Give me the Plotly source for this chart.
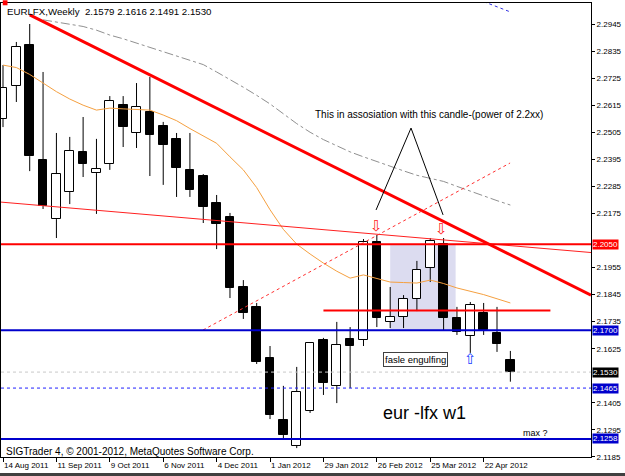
import plotly.graph_objects as go

# ---------------- data ----------------
tick_idx = [0, 4, 8, 12, 16, 20, 24, 28, 32, 36]
tick_labels = ["14 Aug 2011", "11 Sep 2011", "9 Oct 2011", "6 Nov 2011", "4 Dec 2011",
               "1 Jan 2012", "29 Jan 2012", "26 Feb 2012", "25 Mar 2012", "22 Apr 2012"]

opens = [2.2559, 2.2693, 2.2860, 2.2392, 2.2152, 2.2262, 2.2425, 2.2339, 2.2376, 2.2616,
         2.2502, 2.2587, 2.2530, 2.2478, 2.2352, 2.2327, 2.2217, 2.2160, 2.1876, 2.1795,
         2.1587, 2.1335, 2.1230, 2.1372, 2.1661, 2.1474, 2.1665, 2.1661, 2.2059, 2.1734,
         2.1754, 2.1827, 2.1953, 2.2051, 2.1750, 2.1677, 2.1770, 2.1689, 2.1579]
highs = [2.2778, 2.2872, 2.2945, 2.2750, 2.2502, 2.2486, 2.2567, 2.2478, 2.2652, 2.2652,
         2.2705, 2.2730, 2.2547, 2.2502, 2.2502, 2.2335, 2.2250, 2.2177, 2.1904, 2.1811,
         2.1636, 2.1474, 2.1551, 2.1652, 2.1669, 2.1734, 2.1713, 2.2071, 2.2087, 2.1876,
         2.1843, 2.1982, 2.2075, 2.2075, 2.1795, 2.1815, 2.1811, 2.1795, 2.1616]
lows = [2.2526, 2.2628, 2.2347, 2.2193, 2.2075, 2.2213, 2.2323, 2.2173, 2.2352, 2.2445,
        2.2441, 2.2327, 2.2291, 2.2242, 2.2242, 2.2136, 2.2030, 2.1831, 2.1746, 2.1563,
        2.1339, 2.1254, 2.1221, 2.1364, 2.1437, 2.1404, 2.1465, 2.1636, 2.1713, 2.1709,
        2.1709, 2.1778, 2.1896, 2.1701, 2.1681, 2.1608, 2.1681, 2.1612, 2.1491]
closes = [2.2685, 2.2852, 2.2408, 2.2205, 2.2335, 2.2429, 2.2376, 2.2356, 2.2632, 2.2526,
          2.2608, 2.2494, 2.2453, 2.2360, 2.2270, 2.2201, 2.2132, 2.1872, 2.1770, 2.1571,
          2.1356, 2.1274, 2.1449, 2.1648, 2.1486, 2.1640, 2.1636, 2.2059, 2.1750, 2.1754,
          2.1827, 2.1945, 2.2063, 2.1750, 2.1693, 2.1803, 2.1701, 2.1644, 2.1530]

ma_fast = [2.2778, 2.2768, 2.2740, 2.2705, 2.2670, 2.2640, 2.2615, 2.2595, 2.2603, 2.2600,
           2.2597, 2.2595, 2.2575, 2.2552, 2.2520, 2.2490, 2.2460, 2.2405, 2.2352, 2.2280,
           2.2190, 2.2110, 2.2050, 2.2010, 2.1973, 2.1940, 2.1912, 2.1925, 2.1910, 2.1896,
           2.1894, 2.1892, 2.1904, 2.1890, 2.1872, 2.1860, 2.1845, 2.1828, 2.1811]
ma_slow_idx = list(range(3, 39))
ma_slow = [2.2962, 2.2953, 2.2945, 2.2935, 2.2920, 2.2900, 2.2885, 2.2868, 2.2850, 2.2833,
           2.2816, 2.2798, 2.2780, 2.2750, 2.2720, 2.2688, 2.2655, 2.2620, 2.2580, 2.2540,
           2.2505, 2.2475, 2.2450, 2.2425, 2.2405, 2.2385, 2.2365, 2.2348, 2.2330, 2.2318,
           2.2305, 2.2285, 2.2265, 2.2245, 2.2227, 2.2209]
ma_top_idx = [36, 37, 38]
ma_top = [2.3036, 2.3015, 2.2994]

trend_thick = ([2.0, 44.04], [2.2982, 2.1843])
trend_thin = ([-0.15, 44.04], [2.2221, 2.2016])
trend_dotted = ([14.98, 37.98], [2.1701, 2.2380])
marker_lines = ([27.94, 30.56, 32.96], [2.2189, 2.2522, 2.2169])

level_red = 2.2050
level_red_short = (24.0, 41.0, 2.1780)
level_blue = 2.1700
level_blue_dot = 2.1465
level_blue_low = 2.1258
last_price = 2.1530
zone = (29.0, 33.9, 2.2050, 2.1700)

# ticks hidden behind the price boxes (2.2065, 2.1515) are left out
ytick_vals = [2.2945, 2.2835, 2.2725, 2.2615, 2.2505, 2.2395, 2.2285, 2.2175,
              2.1955, 2.1845, 2.1735, 2.1625, 2.1405, 2.1295, 2.1185]

# ---------------- figure ----------------
FONT = "Liberation Sans"
fig = go.Figure()

n = len(opens)
idx = list(range(n))
up = [i for i in idx if closes[i] >= opens[i]]
dn = [i for i in idx if closes[i] < opens[i]]

# wicks (split so they don't cross hollow bodies)
wx, wy = [], []
for i in idx:
    top = max(opens[i], closes[i]); bot = min(opens[i], closes[i])
    wx += [i, i, None, i, i, None]
    wy += [highs[i], top, None, bot, lows[i], None]
fig.add_trace(go.Scatter(x=wx, y=wy, mode="lines", line=dict(color="#000", width=1),
                         hoverinfo="skip", showlegend=False))

for group, fill in ((up, "#ffffff"), (dn, "#000000")):
    fig.add_trace(go.Bar(
        x=group,
        y=[abs(closes[i] - opens[i]) for i in group],
        base=[min(opens[i], closes[i]) for i in group],
        width=0.65, marker=dict(color=fill, line=dict(color="#000", width=1)),
        hoverinfo="skip", showlegend=False))

# moving averages
fig.add_trace(go.Scatter(x=idx, y=ma_fast, mode="lines",
                         line=dict(color="#f5a040", width=1), showlegend=False, hoverinfo="skip"))
fig.add_trace(go.Scatter(x=ma_slow_idx, y=ma_slow, mode="lines",
                         line=dict(color="#909090", width=1, dash="dashdot"), showlegend=False, hoverinfo="skip"))
fig.add_trace(go.Scatter(x=ma_top_idx, y=ma_top, mode="lines",
                         line=dict(color="#3030e0", width=1, dash="dot"), showlegend=False, hoverinfo="skip"))

# trend lines
fig.add_trace(go.Scatter(x=trend_thick[0], y=trend_thick[1], mode="lines",
                         line=dict(color="#ff0000", width=3), showlegend=False, hoverinfo="skip"))
fig.add_trace(go.Scatter(x=trend_thin[0], y=trend_thin[1], mode="lines",
                         line=dict(color="#ff2020", width=1), showlegend=False, hoverinfo="skip"))
fig.add_trace(go.Scatter(x=trend_dotted[0], y=trend_dotted[1], mode="lines",
                         line=dict(color="#ff3030", width=1, dash="dot"), showlegend=False, hoverinfo="skip"))
fig.add_trace(go.Scatter(x=marker_lines[0], y=marker_lines[1], mode="lines",
                         line=dict(color="#000", width=1), showlegend=False, hoverinfo="skip"))

shapes = []
shapes.append(dict(type="rect", xref="x", yref="y", x0=zone[0], x1=zone[1], y0=zone[2], y1=zone[3],
                   fillcolor="#dcdcf0", line=dict(width=0), layer="below"))
def hline(y, color, width, dash="solid"):
    shapes.append(dict(type="line", xref="paper", x0=0, x1=1, yref="y", y0=y, y1=y,
                       line=dict(color=color, width=width, dash=dash)))
hline(last_price, "#c8c8c8", 1, "dot")
hline(level_red, "#ff0000", 2)
hline(level_blue, "#0000cc", 2)
hline(level_blue_dot, "#2020ff", 1, "dot")
hline(level_blue_low, "#0000cc", 2)
shapes.append(dict(type="line", xref="x", yref="y", x0=level_red_short[0], x1=level_red_short[1],
                   y0=level_red_short[2], y1=level_red_short[2], line=dict(color="#ff0000", width=2)))
# small red mark top-left and dark bottom strip
shapes.append(dict(type="rect", xref="paper", yref="paper", x0=0.003, x1=0.011, y0=0.995, y1=1.006,
                   fillcolor="#ff0000", line=dict(width=0)))
shapes.append(dict(type="rect", xref="paper", yref="paper", x0=-0.01, x1=1.06, y0=-0.0352, y1=-0.045,
                   fillcolor="#404040", line=dict(width=0)))

ann = []
def price_box(y, text, bg):
    ann.append(dict(xref="paper", x=1, xanchor="left", xshift=1, yref="y", y=y, text=text,
                    showarrow=False, bgcolor=bg, borderpad=0,
                    font=dict(family=FONT, size=8, color="#ffffff")))
price_box(level_red, "2.2050", "#ff0000")
price_box(level_blue, "2.1700", "#0000cc")
price_box(last_price, "2.1530", "#000000")
price_box(level_blue_dot, "2.1465", "#0000cc")
price_box(level_blue_low, "2.1258", "#0000cc")

ann.append(dict(xref="paper", x=0.007, xanchor="left", yref="paper", y=1, yanchor="top", yshift=-1,
                text="EURLFX,Weekly  2.1579 2.1616 2.1491 2.1530", showarrow=False,
                font=dict(family=FONT, size=9.7, color="#000")))
ann.append(dict(xref="paper", x=0.005, xanchor="left", yref="paper", y=0, yanchor="bottom", yshift=-2,
                text="SIGTrader 4, © 2001-2012, MetaQuotes Software Corp.", showarrow=False,
                font=dict(family=FONT, size=10, color="#000")))
ann.append(dict(xref="x", x=23.2, xanchor="left", yref="y", y=2.2579,
                text="This in assosiation with this candle-(power of 2.2xx)", showarrow=False,
                font=dict(family=FONT, size=10, color="#000")))
ann.append(dict(xref="x", x=30.9, yref="y", y=2.1583, text="fasle engulfing", showarrow=False,
                bgcolor="#ffffff", bordercolor="#404040", borderwidth=1, borderpad=1,
                font=dict(family=FONT, size=9.5, color="#000")))
ann.append(dict(xref="x", x=31.6, yref="y", y=2.1364, text="eur -lfx w1", showarrow=False,
                font=dict(family=FONT, size=18, color="#000")))
ann.append(dict(xref="x", x=39.85, yref="y", y=2.1282, text="max ?", showarrow=False,
                font=dict(family=FONT, size=9, color="#000")))
for ax, ay, sym, col in ((28.0, 2.2122, "⇩", "#ff2020"), (32.85, 2.2112, "⇩", "#ff2020"),
                         (35.0, 2.1585, "⇧", "#2040ff")):
    ann.append(dict(xref="x", x=ax, yref="y", y=ay, text=sym, showarrow=False,
                    font=dict(family="DejaVu Sans", size=15, color=col)))

fig.update_layout(
    width=625, height=476, margin=dict(l=1, r=34, t=3, b=19, autoexpand=False),
    paper_bgcolor="#ffffff", plot_bgcolor="#ffffff",
    barmode="overlay", showlegend=False, bargap=0,
    shapes=shapes, annotations=ann,
    xaxis=dict(range=[-0.15, 44.04], showgrid=False, zeroline=False, automargin=False,
               tickmode="array", tickvals=tick_idx, ticktext=tick_labels, tickangle=0,
               ticks="outside", ticklen=4, tickcolor="#000", ticklabelposition="outside right",
               tickfont=dict(family=FONT, size=8, color="#000"),
               showline=True, linecolor="#000", linewidth=1, mirror=True),
    yaxis=dict(range=[2.11848, 2.30304], side="right", showgrid=False, zeroline=False, automargin=False,
               tickmode="array", tickvals=ytick_vals, ticktext=[f"{v:.4f}" for v in ytick_vals],
               ticks="outside", ticklen=3, tickcolor="#000",
               tickfont=dict(family=FONT, size=8, color="#000"),
               showline=True, linecolor="#000", linewidth=1, mirror=True),
)

fig.write_html("out.html")
